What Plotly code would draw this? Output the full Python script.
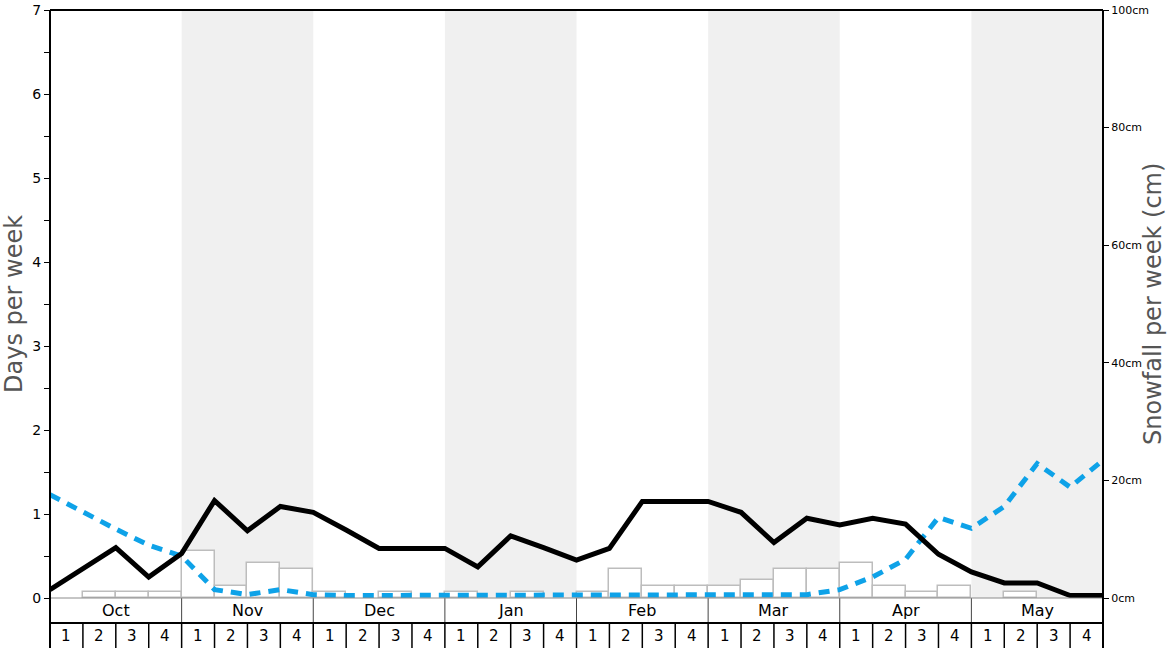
import plotly.graph_objects as go

# weekly snow stats, Oct -> May (4 weeks per month)
MONTHS = ["Oct", "Nov", "Dec", "Jan", "Feb", "Mar", "Apr", "May"]
WEEKS = ["1", "2", "3", "4"]

# snowfall per week (cm), one value per week
SNOWFALL_CM = [0, 1, 1, 1,  8, 2, 6, 5,  1, 0, 1, 0,  1, 0, 1, 0,
               1, 5, 2, 2,  2, 3, 5, 5,  6, 2, 1, 2,  0, 1, 0, 0]

# days per week, sampled at week boundaries (33 points)
SNOW_DAYS = [0.10, 0.35, 0.60, 0.25, 0.53, 1.16, 0.80, 1.09, 1.02, 0.81, 0.59,
             0.59, 0.59, 0.37, 0.74, 0.60, 0.45, 0.59, 1.15, 1.15, 1.15, 1.02,
             0.66, 0.95, 0.87, 0.95, 0.88, 0.52, 0.31, 0.18, 0.18, 0.03, 0.03]
OTHER_DAYS = [1.23, 1.02, 0.82, 0.63, 0.50, 0.10, 0.04, 0.10, 0.04, 0.03, 0.03,
              0.03, 0.03, 0.03, 0.03, 0.03, 0.03, 0.03, 0.03, 0.03, 0.03, 0.03,
              0.03, 0.04, 0.10, 0.25, 0.46, 0.96, 0.83, 1.09, 1.60, 1.32, 1.64]

DAY_TICKS = list(range(0, 8))
CM_TICKS = list(range(0, 101, 20))

BLACK = "#000000"
BLUE = "#0EA2E8"
SHADE = "#F0F0F0"
BAR_EDGE = "#BDBDBD"
TITLE = "#555555"
FONT = "DejaVu Sans"

W, H = 1168, 648
M_L, M_R, M_T, M_B = 50, 65, 10, 50
plot_w = W - M_L - M_R
plot_h = H - M_T - M_B
row = 25 / plot_h          # one table row, in paper units

n_weeks = len(MONTHS) * len(WEEKS)
centers = [i + 0.5 for i in range(n_weeks)]
bounds = list(range(n_weeks + 1))

fig = go.Figure()

fig.add_trace(go.Bar(
    x=centers, y=[v if v else None for v in SNOWFALL_CM],
    width=1, yaxis="y",
    marker=dict(color="white", line=dict(color=BAR_EDGE, width=1.5)),
    hoverinfo="skip", showlegend=False,
))
fig.add_trace(go.Scatter(
    x=bounds, y=OTHER_DAYS, yaxis="y2", mode="lines",
    line=dict(color=BLUE, width=5, dash="11px,8px"),
    showlegend=False,
))
fig.add_trace(go.Scatter(
    x=bounds, y=SNOW_DAYS, yaxis="y2", mode="lines",
    line=dict(color=BLACK, width=5),
    showlegend=False,
))

shapes = []
annotations = []
for m, name in enumerate(MONTHS):
    x0, x1 = m * 4, m * 4 + 4
    if m % 2 == 1:
        shapes.append(dict(type="rect", xref="x", yref="paper", x0=x0, x1=x1,
                           y0=0, y1=1, fillcolor=SHADE, line_width=0, layer="below"))
    # month cell separators
    if m > 0:
        shapes.append(dict(type="line", xref="x", yref="paper", x0=x0, x1=x0,
                           y0=-row, y1=0, line=dict(color="#444444", width=1)))
    annotations.append(dict(text=name, xref="x", yref="paper", x=(x0 + x1) / 2,
                            y=-row / 2, showarrow=False, yanchor="middle",
                            font=dict(size=16, color=BLACK)))
    for w, wk in enumerate(WEEKS):
        xi = x0 + w
        if xi > 0:
            shapes.append(dict(type="line", xref="x", yref="paper", x0=xi, x1=xi,
                               y0=-2 * row, y1=-row, line=dict(color=BLACK, width=1.5)))
        annotations.append(dict(text=wk, xref="x", yref="paper", x=xi + 0.5,
                                y=-1.5 * row, showarrow=False, yanchor="middle",
                                font=dict(size=15, color=BLACK)))

# borders
shapes += [
    dict(type="line", xref="paper", yref="paper", x0=0, x1=1, y0=0, y1=0,
         line=dict(color="#8C8C8C", width=1)),
    dict(type="line", xref="paper", yref="paper", x0=0, x1=1, y0=-row, y1=-row,
         line=dict(color=BLACK, width=2)),
    dict(type="line", xref="paper", yref="paper", x0=0, x1=1, y0=1, y1=1,
         line=dict(color=BLACK, width=2)),
    dict(type="line", xref="paper", yref="paper", x0=0, x1=0, y0=-2 * row, y1=1,
         line=dict(color=BLACK, width=2)),
    dict(type="line", xref="paper", yref="paper", x0=1, x1=1, y0=-2 * row, y1=1,
         line=dict(color=BLACK, width=2)),
]

annotations += [
    dict(text="Days per week", xref="paper", yref="paper",
         x=(14 - M_L) / plot_w, y=0.5, textangle=-90, showarrow=False,
         xanchor="center", yanchor="middle", borderpad=0,
         font=dict(size=24, color=TITLE)),
    dict(text="Snowfall per week (cm)", xref="paper", yref="paper",
         x=(1153 - M_L) / plot_w, y=0.5, textangle=-90, showarrow=False,
         xanchor="center", yanchor="middle", borderpad=0,
         font=dict(size=24, color=TITLE)),
]

fig.update_layout(
    width=W, height=H,
    margin=dict(l=M_L, r=M_R, t=M_T, b=M_B, autoexpand=False),
    plot_bgcolor="white", paper_bgcolor="white",
    font=dict(family=FONT, color=BLACK),
    bargap=0,
    xaxis=dict(range=[0, n_weeks], showticklabels=False, showgrid=False,
               zeroline=False, showline=False, ticks="", automargin=False),
    yaxis=dict(range=[0, 100], side="right", tickvals=CM_TICKS,
               ticktext=[f"{v}cm" for v in CM_TICKS], ticks="outside", ticklen=5,
               tickcolor=BLACK, tickfont=dict(size=11), showgrid=False,
               zeroline=False, showline=False, automargin=False,
               ticklabeloverflow="allow"),
    yaxis2=dict(range=[0, 7], side="left", overlaying="y", tickvals=DAY_TICKS,
                ticks="outside", ticklen=5, tickcolor=BLACK,
                tickfont=dict(size=14), showgrid=False, zeroline=False,
                showline=False, automargin=False, ticklabeloverflow="allow",
                minor=dict(dtick=0.5, ticks="outside", ticklen=5, tickcolor=BLACK)),
    shapes=shapes,
    annotations=annotations,
)

# drop the browser's default body margin so the chart sits at the page corner
fig.write_html("out.html", config={"displayModeBar": False},
               post_script="document.body.style.margin = '0';")
